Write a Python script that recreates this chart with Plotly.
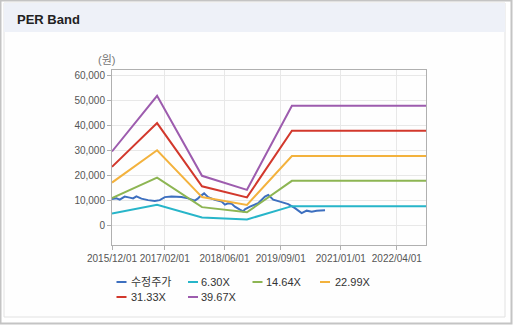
import plotly.graph_objects as go

# ---- data ----
band_dates = ["2015-12-01", "2016-12-01", "2017-12-01", "2018-12-01", "2019-12-01", "2022-11-24"]
per_630 = [4800, 8200, 3200, 2400, 7700, 7700]
per_1464 = [10900, 19100, 7300, 5250, 17800, 17800]
per_2299 = [17100, 30000, 11300, 8200, 27700, 27700]
per_3133 = [23400, 40800, 15600, 11200, 37800, 37800]
per_3967 = [29500, 51700, 19800, 14200, 47700, 47700]

price_dates = [
    "2015-12-01", "2016-01-06", "2016-02-02", "2016-03-13", "2016-04-23", "2016-05-20",
    "2016-06-16", "2016-07-27", "2016-09-19", "2016-11-12", "2016-12-23", "2017-02-02",
    "2017-03-28", "2017-06-17", "2017-08-10", "2017-10-04", "2017-10-30", "2017-11-13",
    "2017-12-18", "2018-01-20", "2018-03-15", "2018-05-09", "2018-06-05", "2018-07-01",
    "2018-07-31", "2018-08-25", "2018-10-05", "2018-10-31", "2018-11-14", "2018-12-25",
    "2019-03-02", "2019-04-26", "2019-05-23", "2019-07-02", "2019-08-26", "2019-11-01",
    "2019-12-26", "2020-02-18", "2020-03-30", "2020-05-10", "2020-06-19", "2020-08-12",
    "2020-08-26",
]
price = [
    10500, 10800, 10300, 11500, 11100, 10800,
    11600, 10700, 10100, 9800, 10100, 11300,
    11500, 11300, 10800, 9900, 10800, 11500,
    12800, 11300, 10200, 9500, 8300, 8800,
    8600, 7500, 6300, 5600, 6400, 7500,
    8900, 11500, 12200, 10300, 9500, 8500,
    6900, 4900, 5900, 5500, 5900, 6200,
    6100,
]

series_names = ["수정주가", "6.30X", "14.64X", "22.99X", "31.33X", "39.67X"]
series_colors = ["#3d6fbf", "#27b5c9", "#8db553", "#f3b23d", "#d2382c", "#9d5cae"]

x_tickvals = ["2015-12-01", "2017-02-01", "2018-06-01", "2019-09-01", "2021-01-01", "2022-04-01"]
x_ticktext = ["2015/12/01", "2017/02/01", "2018/06/01", "2019/09/01", "2021/01/01", "2022/04/01"]
y_tickvals = [0, 10000, 20000, 30000, 40000, 50000, 60000]

# ---- layout geometry (pixels) ----
W, H = 513, 325
L, R, T, B = 112, 87, 70, 80
PW, PH = W - L - R, H - T - B


def px(x):
    return (x - L) / PW


def py(y):
    return 1 - (y - T) / PH


FONT = "Liberation Sans, Arial, Noto Sans CJK KR, sans-serif"

fig = go.Figure()

fig.add_trace(go.Scatter(x=price_dates, y=price, mode="lines", name=series_names[0],
                         line=dict(color=series_colors[0], width=2)))
for name, col, vals in zip(series_names[1:], series_colors[1:],
                           [per_630, per_1464, per_2299, per_3133, per_3967]):
    fig.add_trace(go.Scatter(x=band_dates, y=vals, mode="lines", name=name,
                             line=dict(color=col, width=2)))

shapes = []
annotations = []

# outer frame
shapes.append(dict(type="rect", xref="paper", yref="paper", x0=px(0.5), x1=px(511.5),
                   y0=py(0.5), y1=py(323.5), line=dict(color="#c4c4c4", width=2),
                   fillcolor="rgba(0,0,0,0)", layer="below"))
# inner panel
shapes.append(dict(type="rect", xref="paper", yref="paper", x0=px(4), x1=px(505),
                   y0=py(3), y1=py(317), line=dict(color="#e2e2e2", width=1),
                   fillcolor="#fefefe", layer="below"))
# header band
shapes.append(dict(type="rect", xref="paper", yref="paper", x0=px(4), x1=px(505),
                   y0=py(3), y1=py(32), line=dict(width=0),
                   fillcolor="#eef1f8", layer="below"))

annotations.append(dict(text="<b>PER Band</b>", xref="paper", yref="paper",
                        x=px(15), y=py(19), xanchor="left", yanchor="middle",
                        showarrow=False, font=dict(family=FONT, size=13, color="#222222")))
annotations.append(dict(text="(원)", xref="paper", yref="paper",
                        x=px(106), y=py(60), xanchor="center", yanchor="middle",
                        showarrow=False, font=dict(family=FONT, size=11, color="#777777")))

# manual legend
leg_pos = [(116.5, 282), (188, 282), (252.5, 282), (320, 282), (116.5, 297), (188, 297)]
txt_x = [130, 200, 265, 334, 130, 200]
for i, (name, col) in enumerate(zip(series_names, series_colors)):
    sx, sy = leg_pos[i]
    shapes.append(dict(type="line", xref="paper", yref="paper", x0=px(sx), x1=px(sx + 10),
                       y0=py(sy), y1=py(sy), line=dict(color=col, width=2)))
    annotations.append(dict(text=name, xref="paper", yref="paper", x=px(txt_x[i] - 1), y=py(sy),
                            xanchor="left", yanchor="middle", showarrow=False,
                            font=dict(family=FONT, size=11, color="#333333")))

fig.update_layout(
    width=W, height=H,
    margin=dict(l=L, r=R, t=T, b=B, pad=0),
    paper_bgcolor="white", plot_bgcolor="white",
    showlegend=False,
    shapes=shapes, annotations=annotations,
    font=dict(family=FONT, size=10, color="#555555"),
)
fig.update_xaxes(
    type="date", range=["2015-12-01", "2022-11-24"],
    tickvals=x_tickvals, ticktext=x_ticktext,
    showgrid=True, gridcolor="#e8e8e8", gridwidth=1,
    showline=True, linecolor="#b0b0b0", linewidth=1, mirror=True,
    ticks="outside", ticklen=4, tickcolor="#b0b0b0",
    tickfont=dict(family=FONT, size=10, color="#555555"),
    zeroline=False,
)
fig.update_yaxes(
    range=[-7800, 62000],
    tickvals=y_tickvals, tickformat=",d",
    showgrid=True, gridcolor="#e8e8e8", gridwidth=1,
    showline=True, linecolor="#b0b0b0", linewidth=1, mirror=True,
    ticks="outside", ticklen=4, tickcolor="#b0b0b0",
    tickfont=dict(family=FONT, size=10, color="#555555"),
    zeroline=False,
)

fig.write_html("out.html")
